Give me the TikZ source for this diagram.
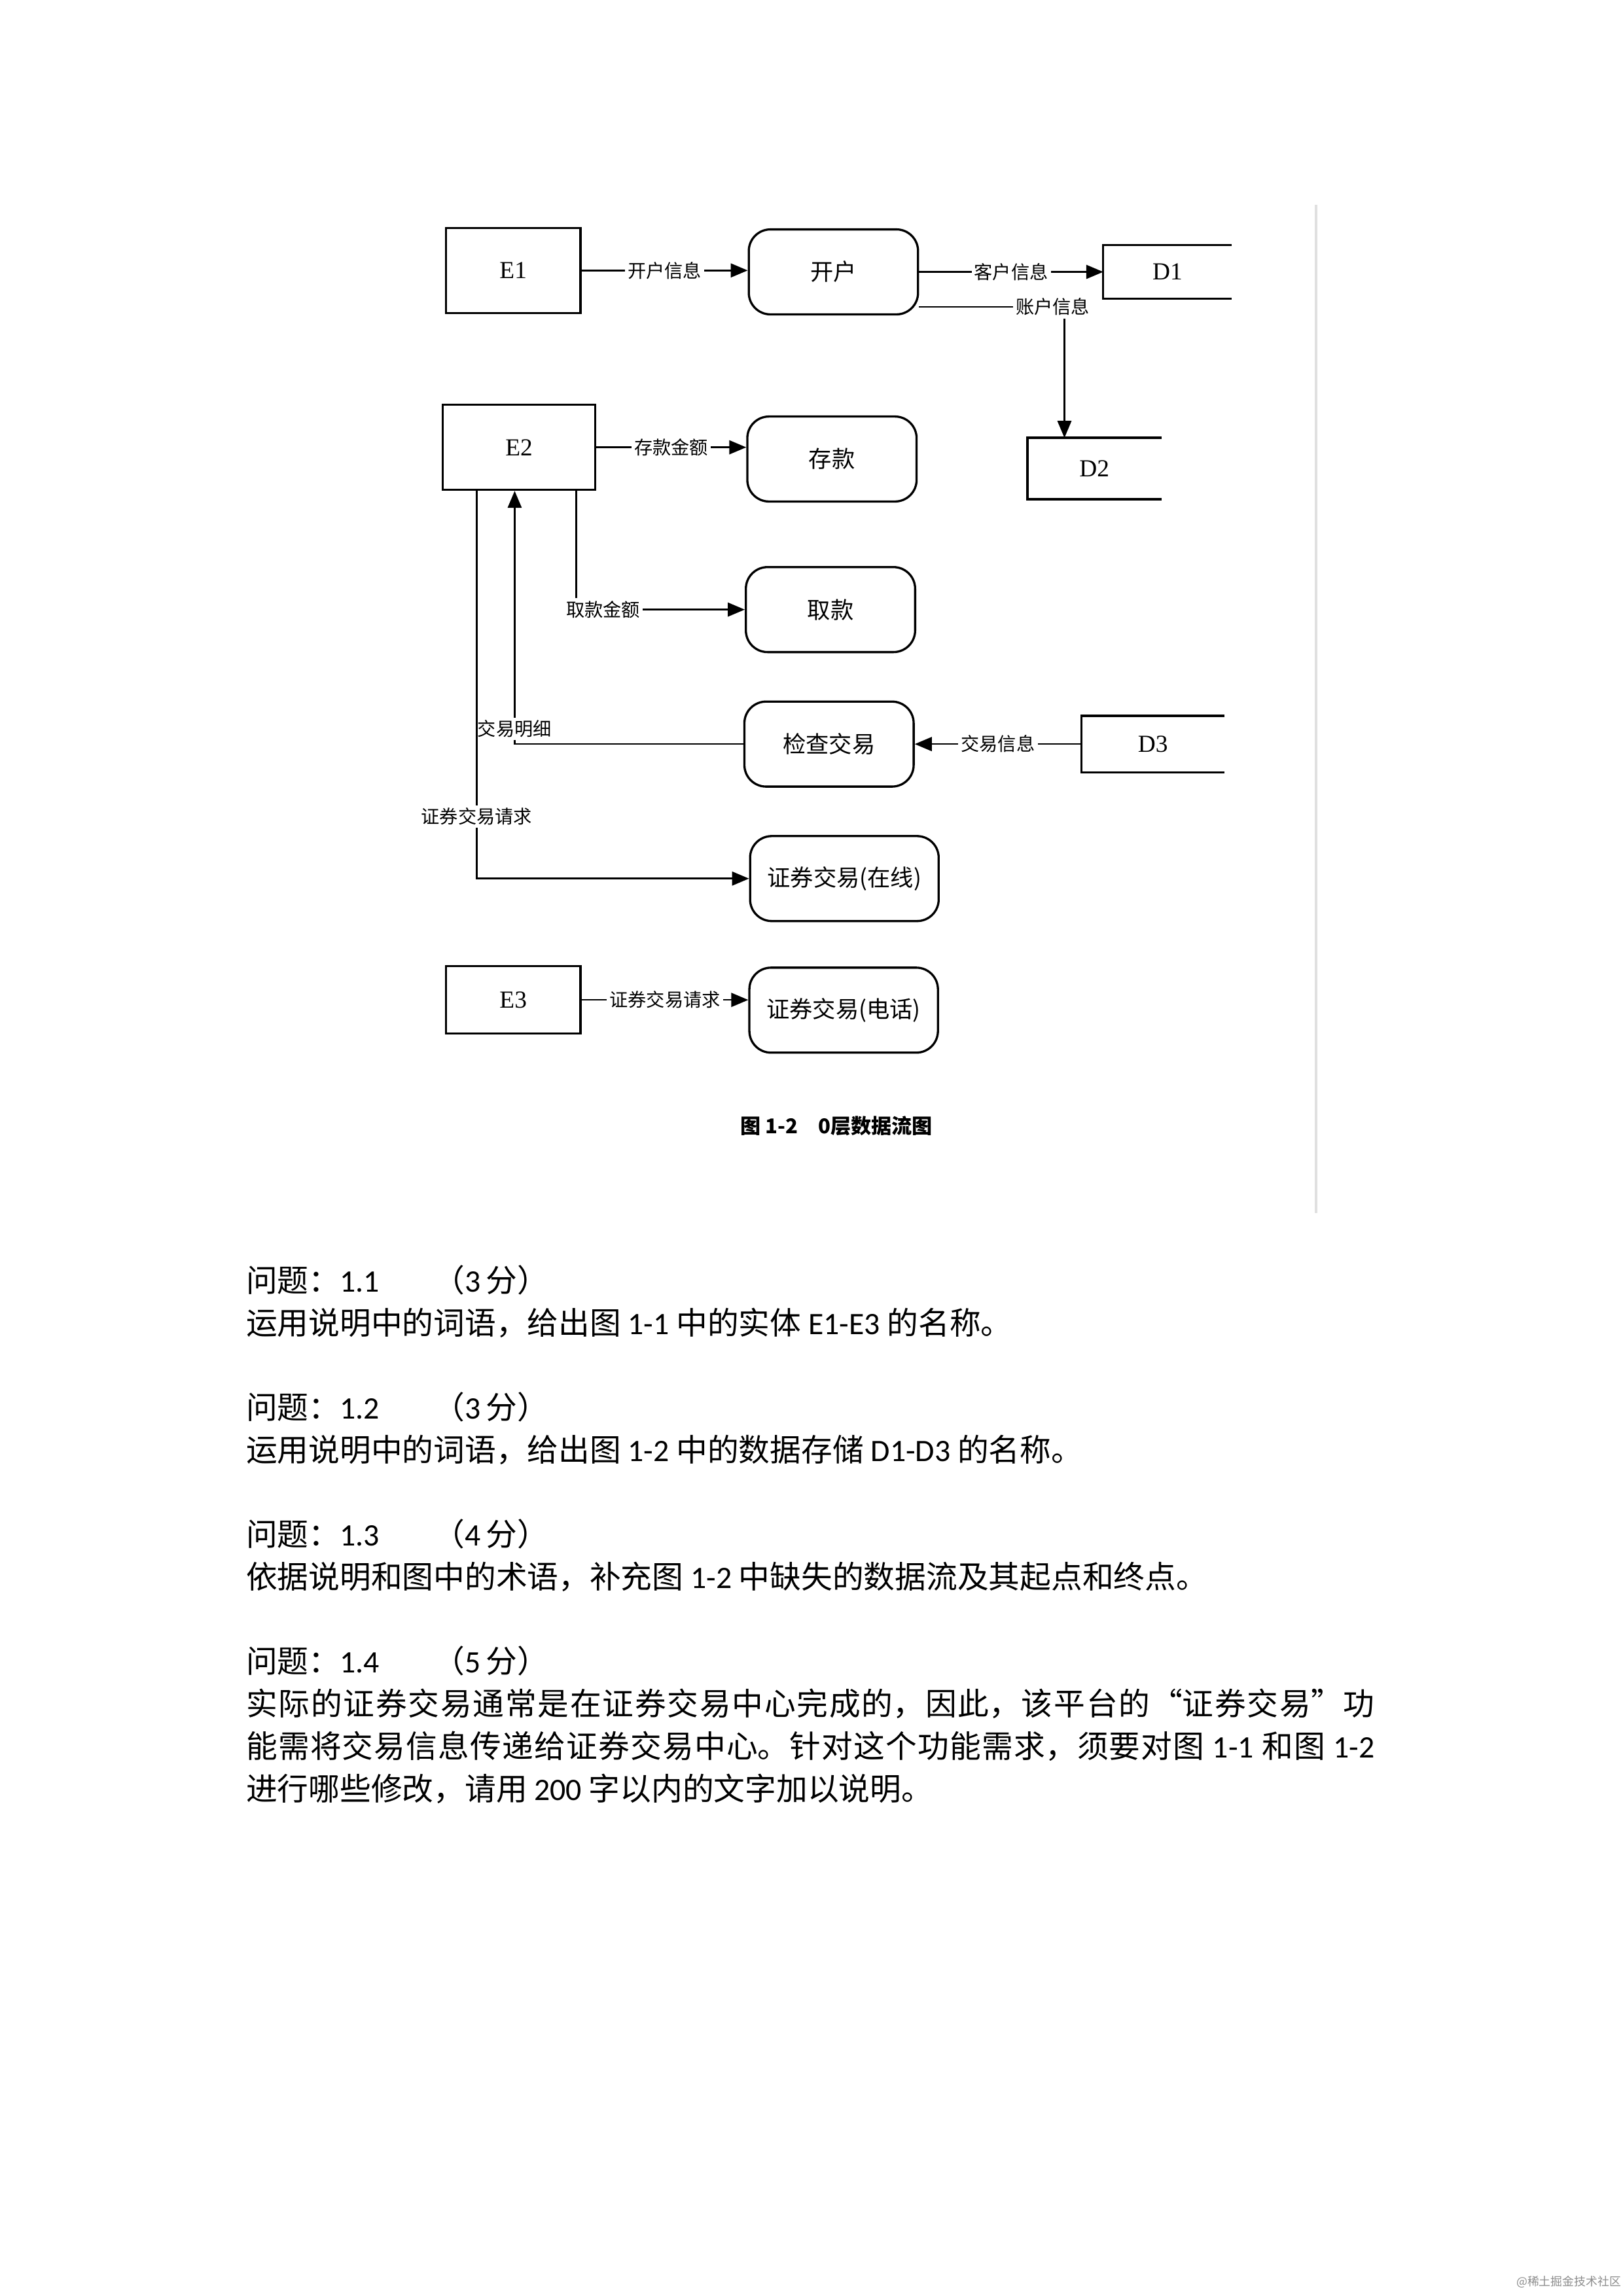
\documentclass[tikz,border=0pt]{standalone}
\usepackage{fontspec}
\setmainfont{Carlito}
\newfontfamily\cjk{Noto Sans CJK SC}
\newfontfamily\enfont{Liberation Serif}
\usetikzlibrary{arrows.meta}
\XeTeXlinebreaklocale "zh"
\XeTeXlinebreakskip=0pt plus 1pt
\setlength{\parindent}{0pt}

\begin{document}
\begin{tikzpicture}[x=0.18919mm,y=-0.18919mm,
    ent/.style={draw,line width=0.8pt,minimum width=17.4mm,minimum height=11mm,font=\enfont\fontsize{9}{9}\selectfont},
    proc/.style={draw,line width=0.8pt,rounded corners=2.8mm,minimum width=21.9mm,minimum height=11mm,font=\cjk\fontsize{8.5}{8.5}\selectfont},
    store/.style={minimum width=16.5mm,minimum height=6.8mm,font=\enfont\fontsize{9}{9}\selectfont},
    flow/.style={line width=0.6pt,-{Triangle[length=2.2mm,width=1.8mm]}},
    lab/.style={fill=white,inner sep=1pt,font=\cjk\fontsize{6.8}{6.8}\selectfont}]
    \useasboundingbox (0,0) rectangle (1110,1570.6);
    % edge of the scan
    \draw [black!12,line width=1pt] (900,140) -- (900,830);
    % entities, processes, stores
    \node [ent] (e1) at (351,185) {E1};
    \node [proc] (kaihu) at (570,186) {开户};
    \node [store] (d1) at (798.5,186) {D1};
    \node [store,minimum width=17.2mm,minimum height=7.8mm] (d2) at (748.5,320.5) {D2};
    \node [ent,minimum width=19.7mm] (e2) at (355,306) {E2};
    \node [proc] (cunkuan) at (569,314) {存款};
    \node [proc] (qukuan) at (568,417) {取款};
    \node [proc] (jcjy) at (567,509) {检查交易};
    \node [store,minimum width=18.4mm,minimum height=7.2mm] (d3) at (788.5,509) {D3};
    \node [proc,minimum width=24.4mm] (zqzx) at (577.5,601) {证券交易(在线)};
    \node [ent,minimum height=8.7mm] (e3) at (351,684) {E3};
    \node [proc,minimum width=24.4mm] (zqdh) at (577,691) {证券交易(电话)};
    \foreach \s in {d1,d2,d3}
        \draw [line width=0.8pt] (\s.north east) -- (\s.north west) -- (\s.south west) -- (\s.south east);
    % data flows
    \draw [flow] (e1.east) -- node [lab] {开户信息} (e1.east -| kaihu.west);
    \draw [flow] (kaihu.east) -- node [lab] {客户信息} (kaihu.east -| d1.west);
    \coordinate (zh) at (728,210);
    \draw [flow] (kaihu.east |- zh) -| node [lab,pos=0.46] {账户信息} (d2.north -| zh);
    \draw [flow] (e2.east) -- node [lab] {存款金额} (e2.east -| cunkuan.west);
    \coordinate (qk) at (394,417);
    \draw [flow] (e2.south -| qk) |- node [lab,pos=0.58] {取款金额} (qukuan.west);
    \coordinate (mx) at (352,509);
    \draw [flow] (jcjy.west) -| node [lab,pos=0.53] {交易明细} (e2.south -| mx);
    \coordinate (zq) at (326,601);
    \draw [flow] (e2.south -| zq) |- node [lab,pos=0.42] {证券交易请求} (zqzx.west);
    \draw [flow] (d3.west) -- node [lab] {交易信息} (d3.west -| jcjy.east);
    \draw [flow] (e3.east) -- node [lab] {证券交易请求} (e3.east -| zqdh.west);
    \node [font=\cjk\bfseries\fontsize{7.5}{7.5}\selectfont] (cap) at (572,770) {图 1-2\quad 0层数据流图};
    % questions
    \node [anchor=north west,inner sep=0pt,text width=146mm,align=justify,font=\fontsize{11.5}{15.6}\selectfont] (txt) at (168,865) {%
        {\cjk 问题：}1.1\hspace{7mm}{\cjk （}3\hspace{0.7mm}{\cjk 分）}\par
        {\cjk 运用说明中的词语，给出图} 1-1 {\cjk 中的实体} E1-E3 {\cjk 的名称。}\par
        \mbox{}\par
        {\cjk 问题：}1.2\hspace{7mm}{\cjk （}3\hspace{0.7mm}{\cjk 分）}\par
        {\cjk 运用说明中的词语，给出图} 1-2 {\cjk 中的数据存储} D1-D3 {\cjk 的名称。}\par
        \mbox{}\par
        {\cjk 问题：}1.3\hspace{7mm}{\cjk （}4\hspace{0.7mm}{\cjk 分）}\par
        {\cjk 依据说明和图中的术语，补充图} 1-2 {\cjk 中缺失的数据流及其起点和终点。}\par
        \mbox{}\par
        {\cjk 问题：}1.4\hspace{7mm}{\cjk （}5\hspace{0.7mm}{\cjk 分）}\par
        {\cjk 实际的证券交易通常是在证券交易中心完成的，因此，该平台的“证券交易”功}\linebreak
        {\cjk 能需将交易信息传递给证券交易中心。针对这个功能需求，须要对图} 1-1 {\cjk 和图} 1-2\linebreak
        {\cjk 进行哪些修改，请用} 200 {\cjk 字以内的文字加以说明。}\par};
    \node [anchor=east,inner sep=0pt,text=black!45,font=\cjk\fontsize{4.3}{4.3}\selectfont] (wm) at (1109,1561) {@稀土掘金技术社区};
\end{tikzpicture}
\end{document}
